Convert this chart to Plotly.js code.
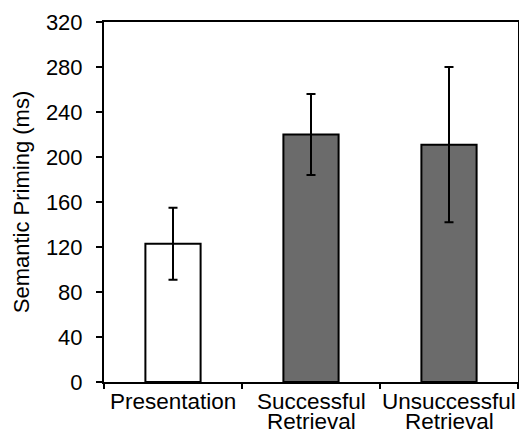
<!DOCTYPE html>
<html>
<head>
<meta charset="utf-8">
<script src="https://cdn.plot.ly/plotly-3.0.1.min.js"></script>
<style>html,body{margin:0;padding:0;background:#fff;}#chart{width:519px;height:435px;}</style>
</head>
<body>
<div id="chart"></div>
<script>
const categories = ["Presentation", "Successful Retrieval", "Unsuccessful Retrieval"];
const labelLines = [["Presentation"], ["Successful", "Retrieval"], ["Unsuccessful", "Retrieval"]];
const priming = [123, 220, 211];
const errors = [32, 36, 69];
const fillColors = ["#ffffff", "#6b6b6b", "#6b6b6b"];
const yTicks = [0, 40, 80, 120, 160, 200, 240, 280, 320];

const font = {family: "Liberation Sans, Arial, sans-serif", color: "#000"};

const annotations = [];
labelLines.forEach((lines, i) => {
  lines.forEach((t, j) => {
    annotations.push({
      x: categories[i], y: 0, xref: "x", yref: "y",
      text: t, showarrow: false,
      xanchor: "center", yanchor: "top",
      yshift: -6 - 20 * j,
      borderpad: 0,
      font: Object.assign({size: 22.5}, font)
    });
  });
});

Plotly.newPlot("chart", [{
  type: "bar",
  x: categories,
  y: priming,
  width: 0.4,
  marker: {color: fillColors, line: {color: "#000", width: 2}},
  error_y: {type: "data", array: errors, visible: true, color: "#000", thickness: 2, width: 4.5}
}], {
  width: 519, height: 435,
  margin: {l: 104, r: 1, t: 22, b: 53},
  paper_bgcolor: "#fff", plot_bgcolor: "#fff",
  showlegend: false,
  font: Object.assign({size: 22}, font),
  annotations: annotations,
  xaxis: {
    showline: true, linecolor: "#000", linewidth: 2, mirror: true,
    ticks: "outside", tickson: "boundaries", ticklen: 5, tickwidth: 1.5, tickcolor: "#000",
    showgrid: false, zeroline: false,
    showticklabels: false,
    automargin: false
  },
  yaxis: {
    range: [0, 320], tickvals: yTicks, ticktext: yTicks.map(String),
    showline: true, linecolor: "#000", linewidth: 2, mirror: true,
    ticks: "outside", ticklen: 6, tickwidth: 1.5, tickcolor: "#000",
    ticklabelstandoff: 9,
    showgrid: false, zeroline: false,
    tickfont: Object.assign({size: 22}, font),
    title: {text: "Semantic Priming (ms)", font: Object.assign({size: 22}, font), standoff: 10},
    automargin: false
  }
}, {staticPlot: true, displayModeBar: false});
</script>
</body>
</html>
